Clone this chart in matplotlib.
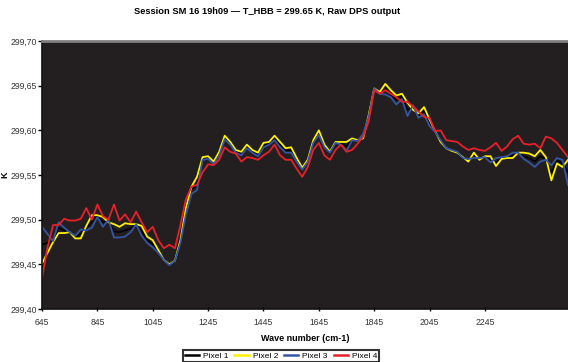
import matplotlib.pyplot as plt
from matplotlib.ticker import FuncFormatter

plt.rcParams['font.family'] = ['Liberation Sans', 'DejaVu Sans']

# wave numbers, one sample every 20 cm-1
wave = [645 + 20 * i for i in range(96)]

pixel2 = [299.451, 299.463, 299.475, 299.485, 299.485, 299.486, 299.479, 299.479, 299.493, 299.505,
          299.505, 299.503, 299.497, 299.495, 299.492, 299.496, 299.495, 299.495, 299.493, 299.481,
          299.477, 299.466, 299.455, 299.450, 299.454, 299.477, 299.513, 299.537, 299.548, 299.570,
          299.571, 299.565, 299.576, 299.594, 299.587, 299.578, 299.576, 299.584, 299.578, 299.575,
          299.586, 299.587, 299.594, 299.587, 299.580, 299.581, 299.569, 299.558, 299.567, 299.589,
          299.600, 299.584, 299.576, 299.587, 299.587, 299.587, 299.591, 299.589, 299.591, 299.617,
          299.647, 299.643, 299.652, 299.645, 299.639, 299.641, 299.631, 299.623, 299.619, 299.626,
          299.612, 299.599, 299.587, 299.580, 299.577, 299.575, 299.570, 299.565, 299.575, 299.567,
          299.571, 299.571, 299.560, 299.568, 299.569, 299.569, 299.575, 299.575, 299.574, 299.571,
          299.578, 299.570, 299.544, 299.563, 299.559, 299.567]

pixel3 = [299.492, 299.484, 299.476, 299.497, 299.491, 299.486, 299.482, 299.489, 299.488, 299.491,
          299.503, 299.492, 299.500, 299.480, 299.480, 299.481, 299.486, 299.495, 299.482, 299.474,
          299.469, 299.463, 299.455, 299.449, 299.454, 299.474, 299.506, 299.529, 299.533, 299.567,
          299.568, 299.562, 299.572, 299.590, 299.584, 299.575, 299.572, 299.580, 299.575, 299.571,
          299.581, 299.584, 299.589, 299.581, 299.575, 299.575, 299.565, 299.556, 299.565, 299.586,
          299.595, 299.581, 299.575, 299.586, 299.584, 299.577, 299.589, 299.588, 299.596, 299.615,
          299.647, 299.641, 299.640, 299.637, 299.629, 299.635, 299.616, 299.628, 299.614, 299.618,
          299.605, 299.598, 299.589, 299.580, 299.578, 299.576, 299.569, 299.568, 299.569, 299.569,
          299.570, 299.564, 299.569, 299.570, 299.571, 299.575, 299.575, 299.568, 299.564, 299.559,
          299.565, 299.567, 299.561, 299.569, 299.567, 299.539]

pixel4 = [299.435, 299.469, 299.494, 299.494, 299.501, 299.499, 299.499, 299.501, 299.513, 299.500,
          299.517, 299.504, 299.500, 299.517, 299.499, 299.506, 299.497, 299.509, 299.497, 299.486,
          299.492, 299.477, 299.468, 299.472, 299.468, 299.494, 299.523, 299.537, 299.539, 299.553,
          299.562, 299.561, 299.567, 299.581, 299.576, 299.574, 299.565, 299.570, 299.569, 299.567,
          299.572, 299.576, 299.584, 299.572, 299.567, 299.567, 299.557, 299.548, 299.559, 299.578,
          299.586, 299.572, 299.567, 299.578, 299.584, 299.576, 299.578, 299.585, 299.593, 299.610,
          299.645, 299.641, 299.645, 299.641, 299.637, 299.632, 299.632, 299.627, 299.621, 299.615,
          299.614, 299.599, 299.600, 299.589, 299.588, 299.587, 299.582, 299.578, 299.580, 299.578,
          299.577, 299.581, 299.586, 299.577, 299.582, 299.590, 299.594, 299.585, 299.584, 299.585,
          299.580, 299.593, 299.591, 299.586, 299.578, 299.570]

pixel1 = [299.472, 299.474, 299.476, 299.491, 299.488, 299.486, 299.480, 299.484, 299.490, 299.498,
          299.504, 299.497, 299.498, 299.487, 299.486, 299.488, 299.490, 299.495, 299.487, 299.477,
          299.473, 299.464, 299.455, 299.449, 299.454, 299.475, 299.509, 299.533, 299.540, 299.568,
          299.569, 299.563, 299.574, 299.592, 299.585, 299.576, 299.574, 299.582, 299.576, 299.573,
          299.583, 299.585, 299.591, 299.584, 299.577, 299.578, 299.567, 299.557, 299.566, 299.587,
          299.597, 299.582, 299.575, 299.586, 299.585, 299.582, 299.590, 299.588, 299.593, 299.616,
          299.647, 299.642, 299.646, 299.641, 299.634, 299.638, 299.623, 299.625, 299.616, 299.622,
          299.608, 299.598, 299.588, 299.580, 299.577, 299.575, 299.569, 299.566, 299.572, 299.568,
          299.570, 299.567, 299.564, 299.569, 299.570, 299.572, 299.575, 299.571, 299.569, 299.565,
          299.571, 299.568, 299.552, 299.566, 299.563, 299.553]

series = [("Pixel 1", pixel1, "#000000"),
          ("Pixel 2", pixel2, "#fff200"),
          ("Pixel 3", pixel3, "#3555a4"),
          ("Pixel 4", pixel4, "#e8202a")]

fig = plt.figure(figsize=(5.68, 3.62), dpi=100)
ax = fig.add_axes([42 / 568, 1 - 309 / 362, 1 - 42 / 568, 268 / 362])
ax.set_facecolor("#231f20")

for name, vals, col in series:
    ax.plot(wave, vals, color=col, lw=1.3, label=name)

ax.set_xlim(645, 2545)
ax.set_ylim(299.40, 299.70)
ax.set_xticks(range(645, 2246, 200))
ax.set_yticks([299.40, 299.45, 299.50, 299.55, 299.60, 299.65, 299.70])
ax.yaxis.set_major_formatter(FuncFormatter(lambda v, p: f"{v:.2f}".replace(".", ",")))
ax.tick_params(axis="both", labelsize=6.2, labelcolor="#333333", length=3, width=1)
ax.tick_params(axis="x", direction="inout", pad=5)
ax.tick_params(axis="y", direction="out", pad=0.5)

for s in ["left", "bottom"]:
    ax.spines[s].set_color("#111111")
    ax.spines[s].set_linewidth(1.2)
ax.spines["top"].set_color("#808080")
ax.spines["top"].set_linewidth(2)
ax.spines["right"].set_visible(False)

ax.set_xlabel("Wave number (cm-1)", fontsize=6.5, fontweight="bold", labelpad=5)
fig.text(5 / 568, 1 - 175 / 362, "K", rotation=90, ha="center", va="center",
         fontsize=6.5, fontweight="bold")
fig.text(267 / 568, 1 - 12 / 362, "Session SM 16 19h09 — T_HBB = 299.65 K, Raw DPS output",
         ha="center", va="center", fontsize=6.7, fontweight="bold")

leg = fig.legend(loc="upper center", bbox_to_anchor=(281 / 568, 1 - 346 / 362), ncol=4,
                 fontsize=6, frameon=True, fancybox=False, edgecolor="black",
                 handlelength=1.7, columnspacing=0.7, handletextpad=0.5, borderpad=0.25)
leg.get_frame().set_linewidth(1.5)
for line in leg.get_lines():
    line.set_linewidth(1.8)

plt.savefig("out.png", dpi=100)
